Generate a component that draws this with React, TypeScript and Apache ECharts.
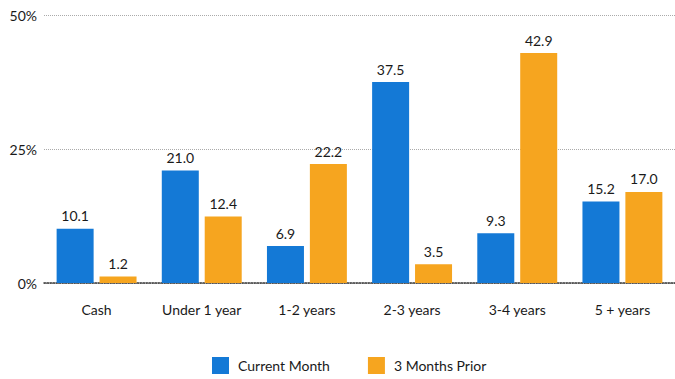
import React, { useEffect, useRef } from "react";
import * as echarts from "echarts";

const categories = ["Cash", "Under 1 year", "1-2 years", "2-3 years", "3-4 years", "5 + years"];
const currentMonth = [10.1, 21.0, 6.9, 37.5, 9.3, 15.2];
const threeMonthsPrior = [1.2, 12.4, 22.2, 3.5, 42.9, 17.0];
const seriesNames = ["Current Month", "3 Months Prior"];

export default function App() {
  const ref = useRef<HTMLDivElement>(null);
  useEffect(() => {
    const chart = echarts.init(ref.current!, null, { renderer: "svg" });
    const font = "Lato";
    const txt = "#1a1a1a";
    const labelStyle = {
      show: true,
      position: "top" as const,
      distance: 6,
      fontFamily: font,
      fontSize: 14,
      color: txt,
      formatter: (p: any) => Number(p.value).toFixed(1),
    };
    chart.setOption({
      animation: false,
      textStyle: { fontFamily: font },
      grid: { left: 44, right: -6, top: 15, bottom: 96 },
      legend: {
        bottom: 0,
        left: 207,
        itemWidth: 17,
        itemHeight: 17,
        itemGap: 38,
        icon: "rect",
        textStyle: { fontFamily: font, fontSize: 14, color: txt, padding: [0, 0, 0, 4] },
        data: seriesNames,
      },
      xAxis: {
        type: "category",
        data: categories,
        axisLine: { show: true, lineStyle: { color: "#333", type: "dotted", width: 1.5 } },
        axisTick: { show: false },
        axisLabel: { fontFamily: font, fontSize: 14, color: txt, margin: 19 },
      },
      yAxis: {
        type: "value",
        min: 0,
        max: 50,
        interval: 25,
        axisLine: { show: false },
        axisTick: { show: false },
        axisLabel: { fontFamily: font, fontSize: 14, color: txt, formatter: "{value}%", margin: 7 },
        splitLine: { lineStyle: { color: "#aaa", type: "dotted", width: 1 } },
      },
      series: [
        {
          name: seriesNames[0],
          type: "bar",
          data: currentMonth,
          barWidth: 37,
          barGap: "16%",
          itemStyle: { color: "#1479d6" },
          label: labelStyle,
        },
        {
          name: seriesNames[1],
          type: "bar",
          data: threeMonthsPrior,
          barWidth: 37,
          barGap: "16%",
          itemStyle: { color: "#f6a51f" },
          label: labelStyle,
        },
      ],
    });
    return () => chart.dispose();
  }, []);
  return (
    <div
      ref={ref}
      style={{ position: "fixed", left: 0, top: 0, width: 675, height: 379, background: "#fff" }}
    />
  );
}
